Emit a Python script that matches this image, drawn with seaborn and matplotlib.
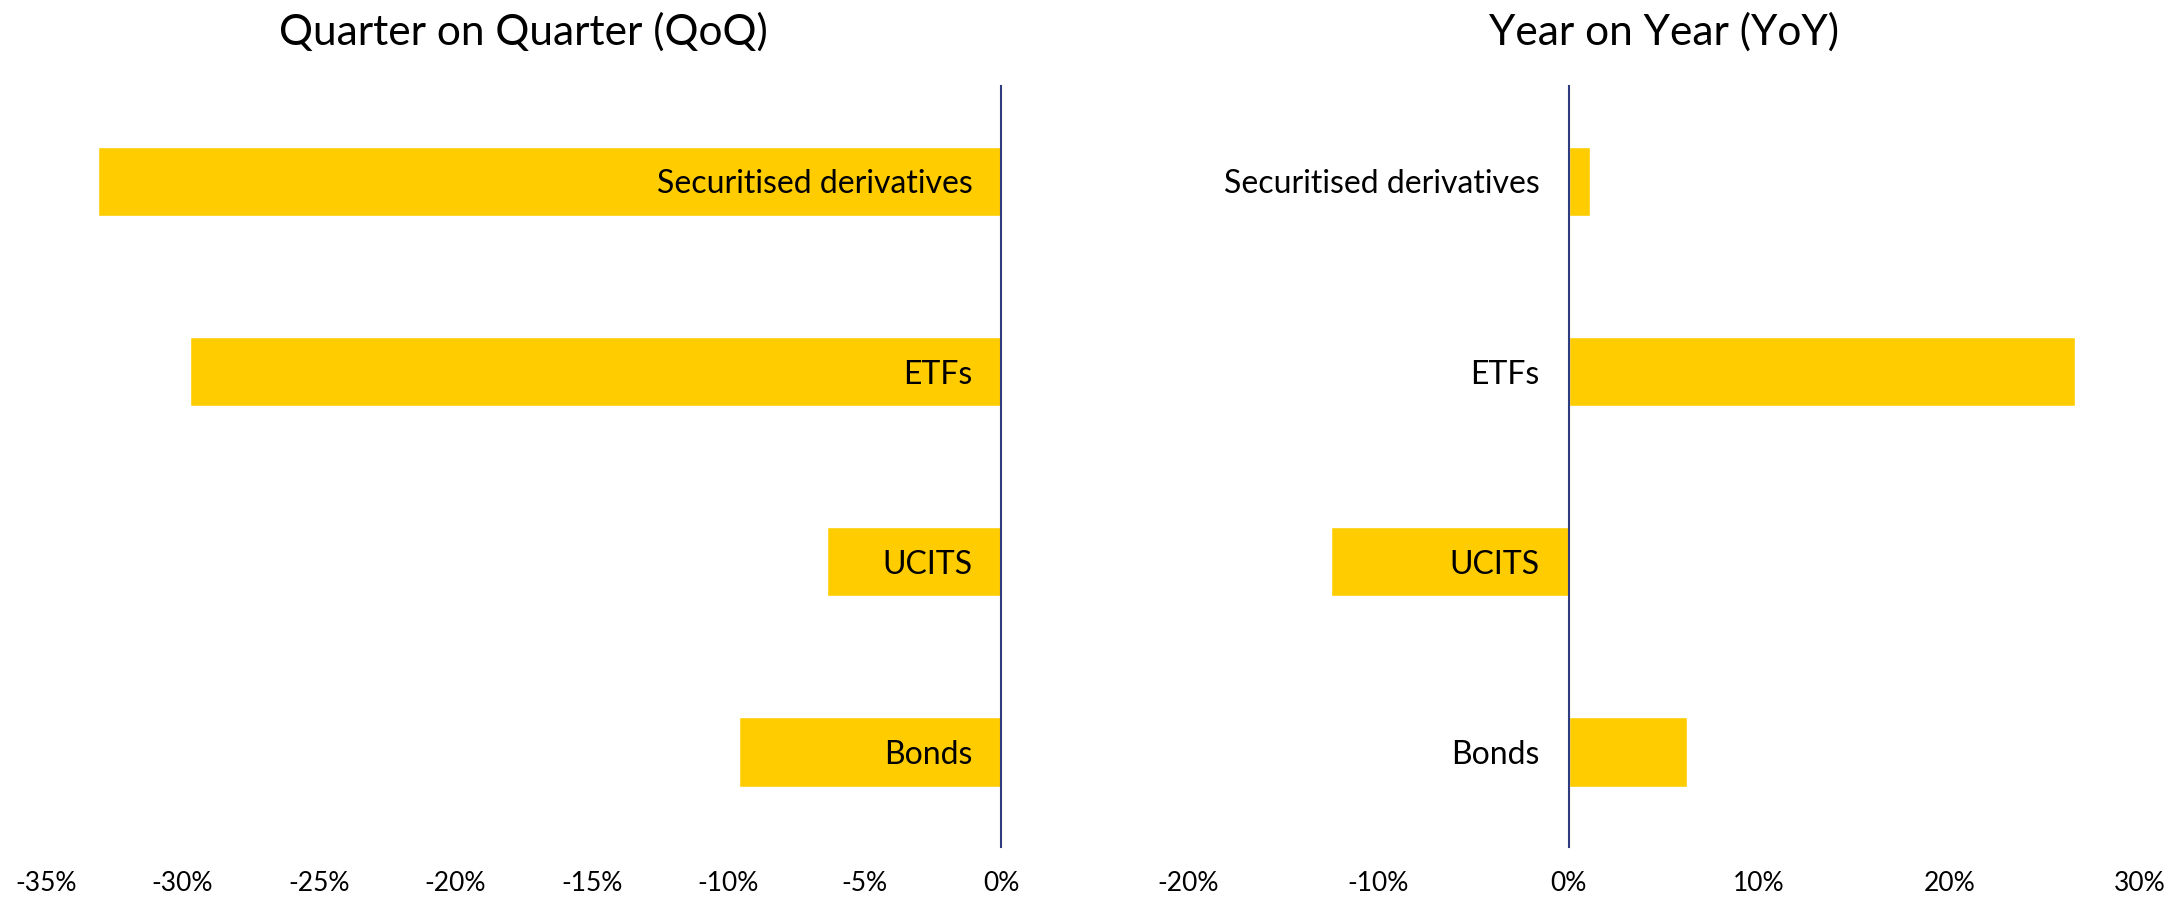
import matplotlib
matplotlib.use("Agg")
import matplotlib.pyplot as plt
import seaborn as sns
import pandas as pd
from matplotlib.ticker import FuncFormatter

categories = ["Securitised derivatives", "ETFs", "UCITS", "Bonds"]
qoq_values = [-33.1, -29.7, -6.4, -9.6]
yoy_values = [1.1, 26.6, -12.5, 6.2]
qoq_ticks = [-35, -30, -25, -20, -15, -10, -5, 0]
yoy_ticks = [-20, -10, 0, 10, 20, 30]

sns.set_theme(style="white")
plt.rcParams["font.family"] = ["Lato", "DejaVu Sans"]
plt.rcParams["text.color"] = "black"
plt.rcParams["xtick.color"] = "black"
plt.rcParams["ytick.color"] = "black"

BAR = "#FFCC00"
AXIS = "#2F3D80"

fig = plt.figure(figsize=(21.77, 9.07), dpi=100)
ax1 = fig.add_axes([0.021, 0.066, 0.439, 0.839])
ax2 = fig.add_axes([0.5457, 0.066, 0.4373, 0.839])

panels = [
    (ax1, qoq_values, qoq_ticks, "Quarter on Quarter (QoQ)"),
    (ax2, yoy_values, yoy_ticks, "Year on Year (YoY)"),
]

for ax, vals, ticks, title in panels:
    df = pd.DataFrame({"category": categories, "value": vals})
    sns.barplot(data=df, y="category", x="value", orient="h", color=BAR,
                saturation=1, width=0.365, ax=ax)
    ax.set_axisbelow(False)
    ax.set_xlim(ticks[0], ticks[-1])
    ax.set_ylim(3.5, -0.5)
    ax.set_xticks(ticks)
    ax.xaxis.set_major_formatter(FuncFormatter(lambda v, p: f"{v:.0f}%"))
    for s in ["top", "right", "bottom"]:
        ax.spines[s].set_visible(False)
    ax.spines["left"].set_position(("data", 0))
    ax.spines["left"].set_color(AXIS)
    ax.spines["left"].set_linewidth(1.5)
    ax.spines["left"].set_zorder(5)
    ax.tick_params(axis="y", length=0, pad=21, labelsize=23, labelcolor="black")
    ax.tick_params(axis="x", length=0, pad=17, labelsize=19, labelcolor="black")
    ax.set_xlabel("")
    ax.set_ylabel("")
    ax.set_title(title, fontsize=30.5, pad=30, color="black")
    ax.grid(False)
    ax.set_facecolor("white")

fig.savefig("out.png", dpi=100, facecolor="white")
